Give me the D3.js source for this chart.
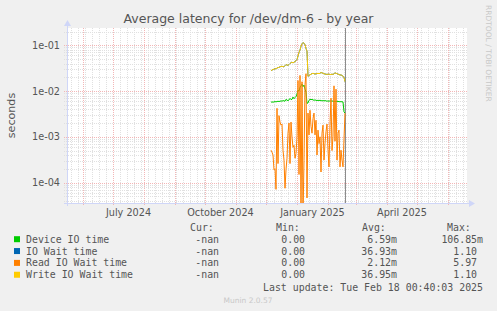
<!DOCTYPE html>
<html>
<head>
<meta charset="utf-8">
<script src="https://cdn.jsdelivr.net/npm/d3@7"></script>
<style>
body { margin:0; background:#F0F0F0; }
svg { display:block; }
text { white-space: pre; }
</style>
</head>
<body>
<svg width="497" height="311"></svg>
<script>

// x span of the graph (400 days), first data day and the last update
const start = new Date(Date.UTC(2024, 4, 16))
const end = new Date(Date.UTC(2025, 5, 20))
const firstDay = new Date(Date.UTC(2024, 11, 6))
const lastUpdate = new Date(Date.UTC(2025, 1, 18, 0, 40, 3))

// y span (log scale, seconds)
const yMin = 3.57e-5
const yMax = 0.2393
const decades = [1e-4, 1e-3, 1e-2, 1e-1]
const yLabels = ['1e-04', '1e-03', '1e-02', '1e-01']

const monthTicks = ['2024-07-01', '2024-10-01', '2025-01-01', '2025-04-01']
const monthLabels = ['July 2024', 'October 2024', 'January 2025', 'April 2025']

// one value per day, from firstDay on
const deviceIO = [5.7e-3, 5.8e-3, 5.7e-3, 5.8e-3, 5.9e-3, 5.8e-3, 5.9e-3, 6.0e-3, 5.9e-3, 6.0e-3,
    6.1e-3, 6.0e-3, 6.2e-3, 6.1e-3, 6.0e-3, 6.6e-3, 6.3e-3, 6.2e-3, 6.4e-3, 6.9e-3,
    6.5e-3, 6.6e-3, 7.4e-3, 6.8e-3, 7.2e-3, 7.6e-3, 8.6e-3, 1.05e-2, 1.0e-2, 1.2e-2,
    1.3e-2, 1.42e-2, 1.25e-2, 1.35e-2, 1.1e-2, 9.5e-3, 5.4e-3, 5.5e-3, 6.3e-3, 6.6e-3,
    6.5e-3, 6.6e-3, 6.4e-3, 6.3e-3, 6.4e-3, 6.3e-3, 6.2e-3, 6.3e-3, 6.2e-3, 6.3e-3,
    6.2e-3, 6.1e-3, 6.2e-3, 6.1e-3, 6.2e-3, 6.1e-3, 6.0e-3, 6.1e-3, 6.0e-3, 6.1e-3,
    6.0e-3, 6.1e-3, 6.0e-3, 5.9e-3, 6.0e-3, 5.9e-3, 6.0e-3, 5.9e-3, 5.9e-3, 5.8e-3,
    5.9e-3, 5.8e-3, 5.8e-3, 3.5e-3, 3.3e-3]

const ioWait = [2.76e-2, 2.88e-2, 2.95e-2, 3.0e-2, 3.1e-2, 3.05e-2, 3.2e-2, 3.25e-2, 3.3e-2, 3.4e-2,
    3.45e-2, 3.5e-2, 3.4e-2, 3.4e-2, 3.6e-2, 3.8e-2, 3.7e-2, 3.65e-2, 3.8e-2, 4.0e-2,
    4.2e-2, 4.3e-2, 4.1e-2, 4.3e-2, 4.4e-2, 4.6e-2, 4.9e-2, 5.8e-2, 7.0e-2, 7.9e-2,
    9.5e-2, 0.108, 0.115, 0.11, 0.105, 8.5e-2, 7.5e-2, 2.1e-2, 2.2e-2, 2.25e-2,
    2.35e-2, 2.4e-2, 2.45e-2, 2.4e-2, 2.35e-2, 2.4e-2, 2.4e-2, 2.45e-2, 2.4e-2, 2.45e-2,
    2.55e-2, 2.5e-2, 2.45e-2, 2.4e-2, 2.35e-2, 2.35e-2, 2.3e-2, 2.35e-2, 2.35e-2, 2.3e-2,
    2.3e-2, 2.35e-2, 2.3e-2, 2.4e-2, 2.5e-2, 2.45e-2, 2.4e-2, 2.35e-2, 2.3e-2, 2.25e-2,
    2.25e-2, 2.2e-2, 2.1e-2, 2.0e-2, 1.6e-2]

const readWait = [5.1e-4, 4.6e-4, 4.0e-4, 1.9e-4, 2.0e-4, 7.1e-5, 4.2e-3, 2.6e-4, 2.9e-3, 2.1e-3,
    1.8e-3, 1.9e-3, 5.1e-4, 3.1e-4, 7.5e-5, 1.9e-4, 3.4e-4, 1.2e-3, 2.0e-3, 2.6e-4,
    2.1e-3, 9.8e-4, 5.9e-4, 6.5e-4, 3.4e-4, 4.3e-4, 9.8e-4, 1.7e-2, 1.5e-4, 2.2e-2,
    0, 1.6e-2, 0, 3.0e-4, 1.4e-2, 2.4e-2, 4.6e-5, 3.3e-3, 1.1e-3, 3.8e-3,
    1.7e-3, 1.2e-3, 2.5e-3, 3.3e-3, 1.1e-3, 2.3e-3, 4.0e-4, 1.4e-3, 7.1e-4, 1.0e-3,
    1.7e-4, 1.2e-3, 1.8e-3, 3.1e-4, 7.1e-4, 1.3e-3, 1.9e-3, 5.1e-4, 2.2e-4, 1.9e-3,
    7.0e-3, 5.0e-4, 1.0e-3, 1.3e-2, 8.0e-4, 1.1e-2, 3.1e-4, 1.2e-3, 1.4e-3, 2.2e-4,
    5.1e-4, 3.1e-4, 2.2e-4, 9.0e-4, 3.3e-3]

const writeWait = [2.78e-2, 2.9e-2, 2.95e-2, 3.0e-2, 3.1e-2, 3.05e-2, 3.2e-2, 3.25e-2, 3.3e-2, 3.4e-2,
    3.45e-2, 3.5e-2, 3.4e-2, 3.4e-2, 3.6e-2, 3.8e-2, 3.7e-2, 3.65e-2, 3.8e-2, 4.0e-2,
    4.2e-2, 4.3e-2, 4.1e-2, 4.3e-2, 4.4e-2, 4.6e-2, 4.9e-2, 5.8e-2, 7.0e-2, 7.9e-2,
    9.5e-2, 0.108, 0.115, 0.11, 0.105, 8.5e-2, 7.5e-2, 2.1e-2, 2.2e-2, 2.25e-2,
    2.35e-2, 2.4e-2, 2.45e-2, 2.4e-2, 2.35e-2, 2.4e-2, 2.4e-2, 2.45e-2, 2.4e-2, 2.45e-2,
    2.55e-2, 2.5e-2, 2.45e-2, 2.4e-2, 2.35e-2, 2.35e-2, 2.3e-2, 2.35e-2, 2.35e-2, 2.3e-2,
    2.3e-2, 2.35e-2, 2.3e-2, 2.4e-2, 2.5e-2, 2.45e-2, 2.4e-2, 2.35e-2, 2.3e-2, 2.25e-2,
    2.25e-2, 2.2e-2, 2.1e-2, 2.0e-2, 1.6e-2]

// legend table
const names = ['Device IO time', 'IO Wait time', 'Read IO Wait time', 'Write IO Wait time']
const colors = ['#00CC00', '#0066B3', '#FF8000', '#FFCC00']
const curVals = ['-nan', '-nan', '-nan', '-nan']
const minVals = ['0.00', '0.00', '0.00', '0.00']
const avgVals = ['6.59m', '36.93m', '2.12m', '36.95m']
const maxVals = ['106.85m', '1.10', '5.97', '1.10']

const series = [deviceIO, ioWait, readWait, writeWait]

const svg = d3.select('svg')
const W = 497, H = 311
const margin = {left: 67, top: 28, right: 30, bottom: 108}
const pLeft = margin.left, pTop = margin.top
const pRight = W - margin.right, pBottom = H - margin.bottom

const sans = 'DejaVu Sans'
const mono = 'DejaVu Sans Mono'
const fontColor = '#555'
const minorColor = '#E0E0E0'
const majorColor = '#F3B6B6'

svg.append('rect').attr('width', W).attr('height', H).attr('fill', '#F0F0F0')

const x = d3.scaleUtc().domain([start, end]).range([pLeft, pRight])
const y = d3.scaleLog().domain([yMin, yMax]).range([pBottom, pTop])

svg.append('rect')
    .attr('x', pLeft).attr('y', pTop)
    .attr('width', pRight - pLeft).attr('height', pBottom - pTop)
    .attr('fill', '#FFFFFF')

const grid = svg.append('g')
const px = v => Math.round(v) + 0.5

// minor horizontal grid (2..9 per decade)
const minorY = []
for (let e = -5; e <= 0; e++) {
    for (let m = 2; m <= 9; m++) {
        const v = m * Math.pow(10, e)
        if (v > yMin && v < yMax) minorY.push(v)
    }
}
grid.selectAll('.hminor').data(minorY).enter().append('line')
    .attr('x1', pLeft - 3).attr('x2', pRight)
    .attr('y1', d => px(y(d))).attr('y2', d => px(y(d)))
    .attr('stroke', minorColor).attr('stroke-dasharray', '1,1')

// minor vertical grid (weeks)
const weeks = d3.utcMonday.range(start, end)
grid.selectAll('.vminor').data(weeks).enter().append('line')
    .attr('y1', pTop).attr('y2', pBottom)
    .attr('x1', d => px(x(d))).attr('x2', d => px(x(d)))
    .attr('stroke', minorColor).attr('stroke-dasharray', '1,1')

// major grid
grid.selectAll('.hmajor').data(decades).enter().append('line')
    .attr('x1', pLeft - 3).attr('x2', pRight)
    .attr('y1', d => px(y(d))).attr('y2', d => px(y(d)))
    .attr('stroke', majorColor).attr('stroke-dasharray', '1,1')

const months = d3.utcMonth.range(start, end)
grid.selectAll('.vmajor').data(months).enter().append('line')
    .attr('y1', pTop).attr('y2', pBottom + 3)
    .attr('x1', d => px(x(d))).attr('x2', d => px(x(d)))
    .attr('stroke', majorColor).attr('stroke-dasharray', '1,1')

// last update rule
svg.append('line')
    .attr('x1', px(x(lastUpdate))).attr('x2', px(x(lastUpdate)))
    .attr('y1', pTop).attr('y2', pBottom)
    .attr('stroke', '#8C8C8C')

// data lines
svg.append('clipPath').attr('id', 'plot')
    .append('rect').attr('x', pLeft).attr('y', pTop)
    .attr('width', pRight - pLeft).attr('height', pBottom - pTop)

const line = d3.line()
    .x(d => x(d.date))
    .y(d => y(Math.max(d.v, yMin / 2)))

const lines = svg.append('g').attr('clip-path', 'url(#plot)')
series.forEach((vals, i) => {
    const pts = vals.map((v, k) => ({date: d3.utcDay.offset(firstDay, k), v: v}))
    lines.append('path')
        .datum(pts)
        .attr('d', line)
        .attr('fill', 'none')
        .attr('stroke', colors[i])
        .attr('stroke-width', 1)
})

// axes
const axisColor = '#CFD6F8'
svg.append('line').attr('x1', pLeft - 3).attr('x2', pRight + 4)
    .attr('y1', pBottom + 0.5).attr('y2', pBottom + 0.5).attr('stroke', axisColor)
svg.append('line').attr('x1', pLeft + 0.5).attr('x2', pLeft + 0.5)
    .attr('y1', pBottom + 3).attr('y2', pTop - 4).attr('stroke', axisColor)
svg.append('path')
    .attr('d', `M${pRight + 2},${pBottom - 3} L${pRight + 8},${pBottom + 0.5} L${pRight + 2},${pBottom + 4} Z`)
    .attr('fill', axisColor)
svg.append('path')
    .attr('d', `M${pLeft - 3},${pTop - 2} L${pLeft + 0.5},${pTop - 8} L${pLeft + 4},${pTop - 2} Z`)
    .attr('fill', axisColor)

// y labels
svg.selectAll('.ylab').data(decades).enter().append('text')
    .attr('x', pLeft - 7).attr('y', d => y(d) + 3.5)
    .attr('text-anchor', 'end')
    .attr('font-family', sans).attr('font-size', 9.7)
    .attr('fill', fontColor)
    .text((d, i) => yLabels[i])

// x labels, centred in their month
svg.selectAll('.xlab').data(monthTicks).enter().append('text')
    .attr('x', d => {
        const m = new Date(d + 'T00:00:00Z')
        return (x(m) + x(d3.utcMonth.offset(m, 1))) / 2
    })
    .attr('y', pBottom + 13)
    .attr('text-anchor', 'middle')
    .attr('font-family', sans).attr('font-size', 9.7)
    .attr('fill', fontColor)
    .text((d, i) => monthLabels[i])

// title, unit, watermark
svg.append('text').attr('x', 248.5).attr('y', 23)
    .attr('text-anchor', 'middle')
    .attr('font-family', sans).attr('font-size', 12.5)
    .attr('fill', fontColor)
    .text('Average latency for /dev/dm-6 - by year')

svg.append('text')
    .attr('transform', `translate(15,${(pTop + pBottom) / 2}) rotate(-90)`)
    .attr('text-anchor', 'middle')
    .attr('font-family', sans).attr('font-size', 11.1)
    .attr('fill', fontColor)
    .text('seconds')

svg.append('text')
    .attr('transform', 'translate(486,5) rotate(90)')
    .attr('font-family', sans).attr('font-size', 7.5)
    .attr('fill', '#C8C8C8')
    .text('RRDTOOL / TOBI OETIKER')

// legend
const legend = svg.append('g')
    .attr('font-family', mono).attr('font-size', 9.9)
    .attr('fill', fontColor)

const headY = 231
const rowY = 242.7, rowStep = 11.85
const cols = [
    {head: 'Cur:', hx: 190, rx: 225, vals: curVals},
    {head: 'Min:', hx: 276, rx: 311, vals: minVals},
    {head: 'Avg:', hx: 362, rx: 397, vals: avgVals},
    {head: 'Max:', hx: 447, rx: 483, vals: maxVals}
]
cols.forEach(c => {
    legend.append('text').attr('x', c.hx).attr('y', headY).text(c.head)
})

names.forEach((n, i) => {
    const ry = rowY + i * rowStep
    legend.append('rect')
        .attr('x', 14).attr('y', ry - 6.5)
        .attr('width', 6).attr('height', 6)
        .attr('fill', colors[i])
    legend.append('text').attr('x', 26).attr('y', ry).text(n)
    cols.forEach(c => {
        const v = c.vals[i]
        const pad = /[a-z]$/.test(v) && v !== '-nan' ? '' : '\u00a0'
        legend.append('text')
            .attr('x', c.rx).attr('y', ry)
            .attr('text-anchor', 'end')
            .text(v + pad)
    })
})

legend.append('text')
    .attr('x', 483).attr('y', 291)
    .attr('text-anchor', 'end')
    .text('Last update: Tue Feb 18 00:40:03 2025')

svg.append('text')
    .attr('x', 248).attr('y', 302.7)
    .attr('text-anchor', 'middle')
    .attr('font-family', sans).attr('font-size', 7.5)
    .attr('fill', '#C8C8C8')
    .text('Munin 2.0.57')

</script>
</body>
</html>
